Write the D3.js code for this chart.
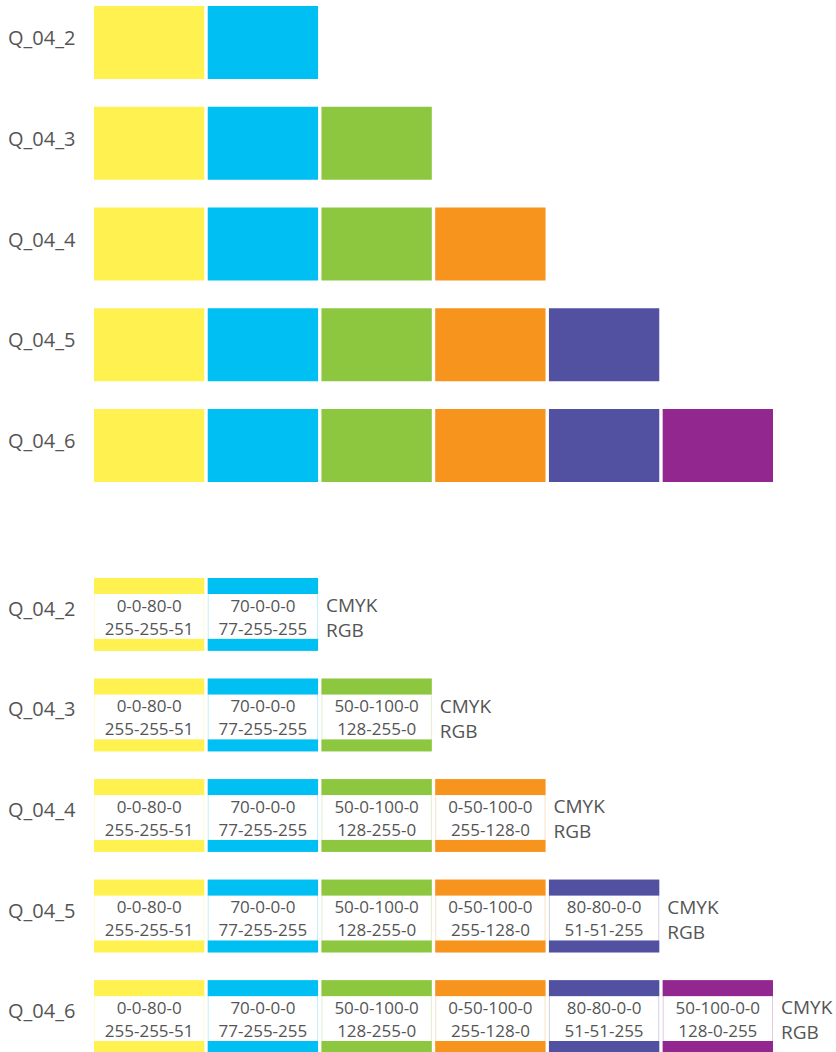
<!DOCTYPE html>
<html>
<head>
<meta charset="utf-8">
<script src="https://cdn.jsdelivr.net/npm/d3@7"></script>
<style>
  html, body { margin: 0; padding: 0; background: #fff; }
  svg { display: block; font-family: "Open Sans", sans-serif; }
</style>
</head>
<body>
<svg id="chart" width="836" height="1052"></svg>
<script>
// ---- data ----
const rows = ["Q_04_2", "Q_04_3", "Q_04_4", "Q_04_5", "Q_04_6"];
const counts = [2, 3, 4, 5, 6];
const colors = ["#FFF150", "#00BFF3", "#8DC63F", "#F7941D", "#5250A1", "#92278F"];
const cmykLabels = ["0-0-80-0", "70-0-0-0", "50-0-100-0", "0-50-100-0", "80-80-0-0", "50-100-0-0"];
const rgbLabels = ["255-255-51", "77-255-255", "128-255-0", "255-128-0", "51-51-255", "128-0-255"];
const legendLines = ["CMYK", "RGB"];

(function () {
const svg = d3.select("#chart");
const textColor = "#555";

const cols = d3.range(colors.length);
const x = d3.scaleBand().domain(cols).range([94, 773]).paddingInner(0.03).paddingOuter(0);
const pad = 1 - 73 / 100.75;
const yTop = d3.scaleBand().domain(rows).range([6, 482]).paddingInner(pad).paddingOuter(0);
const yBot = d3.scaleBand().domain(rows).range([578, 1053]).paddingInner(pad).paddingOuter(0);

const cellsFor = (r, i) => d3.range(counts[i]).map(c => ({ row: r, col: c }));

// ---- top section ----
const gTop = svg.append("g");
rows.forEach((r, i) => {
  gTop.append("text")
    .attr("x", 8)
    .attr("y", yTop(r) + yTop.bandwidth() / 2 + 2.5)
    .attr("font-size", 20)
    .attr("fill", textColor)
    .text(r);
  gTop.selectAll(null)
    .data(cellsFor(r, i))
    .join("rect")
    .attr("x", d => x(d.col))
    .attr("y", yTop(r))
    .attr("width", x.bandwidth())
    .attr("height", yTop.bandwidth())
    .attr("fill", d => colors[d.col]);
});

// ---- bottom section ----
const gBot = svg.append("g");
const topStripe = 16, botStripe = 12;
rows.forEach((r, i) => {
  const y0 = yBot(r), h = yBot.bandwidth();
  gBot.append("text")
    .attr("x", 8)
    .attr("y", y0 + h / 2 + 1.5)
    .attr("font-size", 20)
    .attr("fill", textColor)
    .text(r);
  const g = gBot.selectAll(null)
    .data(cellsFor(r, i))
    .join("g");
  g.append("rect")
    .attr("x", d => x(d.col) + 0.5)
    .attr("y", y0 + 0.5)
    .attr("width", x.bandwidth() - 1)
    .attr("height", h - 1)
    .attr("fill", "#fff")
    .attr("stroke", d => colors[d.col])
    .attr("stroke-opacity", 0.25);
  g.append("rect")
    .attr("x", d => x(d.col))
    .attr("y", y0)
    .attr("width", x.bandwidth())
    .attr("height", topStripe)
    .attr("fill", d => colors[d.col]);
  g.append("rect")
    .attr("x", d => x(d.col))
    .attr("y", y0 + h - botStripe)
    .attr("width", x.bandwidth())
    .attr("height", botStripe)
    .attr("fill", d => colors[d.col]);
  g.append("text")
    .attr("x", d => x(d.col) + x.bandwidth() / 2)
    .attr("y", y0 + 33.5)
    .attr("text-anchor", "middle")
    .attr("font-size", 17)
    .attr("fill", textColor)
    .text(d => cmykLabels[d.col]);
  g.append("text")
    .attr("x", d => x(d.col) + x.bandwidth() / 2)
    .attr("y", y0 + 56.5)
    .attr("text-anchor", "middle")
    .attr("font-size", 17)
    .attr("fill", textColor)
    .text(d => rgbLabels[d.col]);
  const lx = x(counts[i] - 1) + x.bandwidth() + 8;
  legendLines.forEach((t, k) => {
    gBot.append("text")
      .attr("x", lx)
      .attr("y", y0 + 34 + k * 25)
      .attr("font-size", 19)
      .attr("fill", textColor)
      .text(t);
  });
});
})();
</script>
</body>
</html>
